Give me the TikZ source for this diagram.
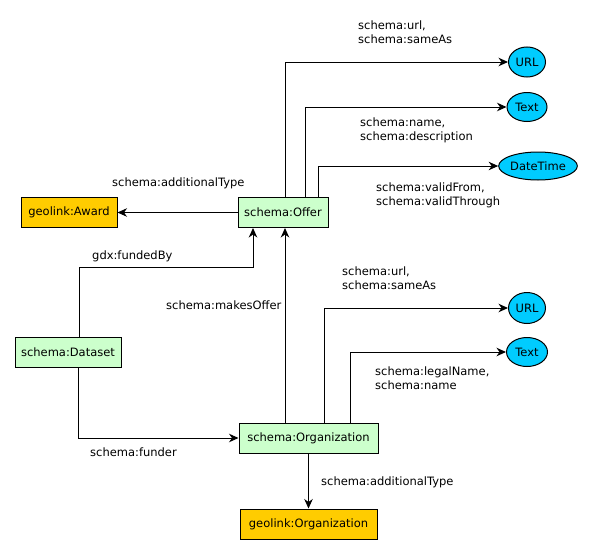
\documentclass[tikz,border=0pt]{standalone}
\usepackage{fontspec}
\setmainfont{DejaVu Sans}
\usetikzlibrary{arrows.meta,shapes.geometric}
\definecolor{cgreen}{HTML}{CCFFCC}
\definecolor{corange}{HTML}{FFCC00}
\definecolor{ccyan}{HTML}{00CCFF}
\begin{document}
\begin{tikzpicture}[x=1pt,y=-1pt,
  every node/.style={font=\fontsize{11.5}{14}\selectfont},
  cls/.style={draw,line width=1pt,fill=cgreen,minimum height=30pt,inner sep=0pt},
  ext/.style={draw,line width=1pt,fill=corange,minimum height=30pt,inner sep=0pt},
  lit/.style={draw,line width=1pt,ellipse,fill=ccyan,inner sep=0pt},
  lbl/.style={anchor=west,align=left,inner sep=0pt},
  edge/.style={line width=1pt,-{Stealth[length=9.5pt,width=8.5pt,inset=3pt]}}]
\useasboundingbox (0,0) rectangle (591,554);
% nodes
\node[ext,minimum width=96pt] (award) at (69,212.5) {geolink:Award};
\node[cls,minimum width=90pt] (offer) at (283,212.5) {schema:Offer};
\node[cls,minimum width=106pt] (dataset) at (68,352) {schema:Dataset};
\node[cls,minimum width=139pt] (org) at (308.5,438) {schema:Organization};
\node[ext,minimum width=137pt] (geoorg) at (308.5,524) {geolink:Organization};
\node[lit,minimum width=37pt,minimum height=30pt] (url1) at (527,62) {URL};
\node[lit,minimum width=40pt,minimum height=29pt] (text1) at (527,107) {Text};
\node[lit,minimum width=66pt,minimum height=28pt] (dt) at (538,166) {DateTime};
\node[lit,minimum width=37pt,minimum height=31pt] (url2) at (527,308) {URL};
\node[lit,minimum width=41pt,minimum height=29pt] (text2) at (527,352) {Text};
% connectors
\draw[edge] ([xshift=2pt]offer.north) |- (url1);
\draw[edge] ([xshift=22pt]offer.north) |- (text1);
\draw[edge] ([xshift=35pt]offer.north) |- (dt);
\draw[edge] (offer) -- (award);
\draw[edge] ([xshift=11pt]dataset.north) |- ([xshift=-30pt,yshift=-39pt]offer.south) -- ([xshift=-30pt]offer.south);
\coordinate (mo) at ([xshift=2pt]offer.south);
\draw[edge] (mo |- org.north) -- (mo);
\draw[edge] ([xshift=15.5pt]org.north) |- (url2);
\draw[edge] ([xshift=41.5pt]org.north) |- (text2);
\draw[edge] ([xshift=10pt]dataset.south) |- (org);
\draw[edge] (org) -- (geoorg);
% labels
\node[lbl] (l1) at (358,32) {schema:url,\\schema:sameAs};
\node[lbl] (l2) at (360,130.5) {schema:name,\\schema:description};
\node[lbl] (l3) at (376,195.5) {schema:validFrom,\\schema:validThrough};
\node[lbl] (l4) at (112,183) {schema:additionalType};
\node[lbl] (l5) at (92,256) {gdx:fundedBy};
\node[lbl] (l6) at (166,305) {schema:makesOffer};
\node[lbl] (l7) at (342,278) {schema:url,\\schema:sameAs};
\node[lbl] (l8) at (375,378) {schema:legalName,\\schema:name};
\node[lbl] (l9) at (90,452) {schema:funder};
\node[lbl] (l10) at (321,482) {schema:additionalType};
\end{tikzpicture}
\end{document}
